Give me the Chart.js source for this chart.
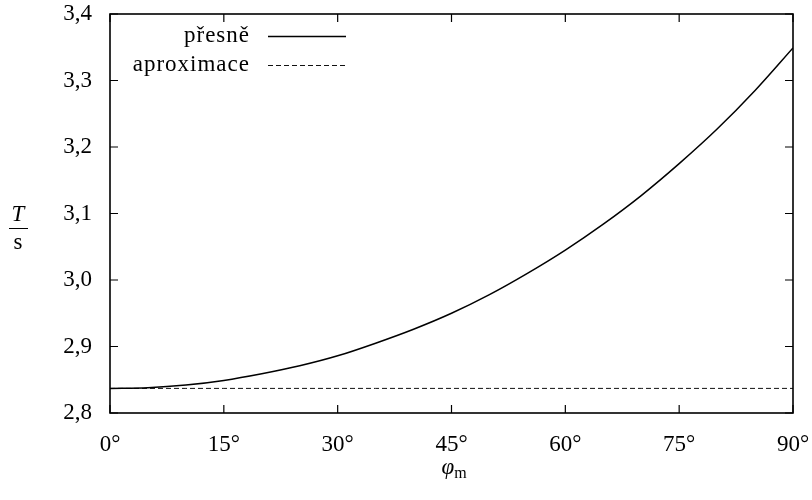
<!DOCTYPE html>
<html>
<head>
<meta charset="utf-8">
<script src="https://cdn.jsdelivr.net/npm/chart.js@4"></script>
<style>
  html, body { margin: 0; padding: 0; background: #fff; }
  #wrap { width: 812px; height: 500px; }
</style>
</head>
<body>
<div id="wrap"><canvas id="chart" width="812" height="500"></canvas></div>
<script>
// amplitude in degrees and period in seconds
const angles = [0, 5, 10, 15, 20, 25, 30, 35, 40, 45, 50, 55, 60, 65, 70, 75, 80, 85, 90];
const exactT = [2.837, 2.838, 2.842, 2.849, 2.859, 2.871, 2.886, 2.905, 2.926, 2.950,
                2.978, 3.010, 3.045, 3.084, 3.127, 3.175, 3.227, 3.285, 3.349];
const approxT = [2.837, 2.837, 2.837, 2.837, 2.837, 2.837, 2.837, 2.837, 2.837, 2.837,
                 2.837, 2.837, 2.837, 2.837, 2.837, 2.837, 2.837, 2.837, 2.837];
const seriesNames = ['přesně', 'aproximace'];
const xTicks = [0, 15, 30, 45, 60, 75, 90];
const yTicks = [2.8, 2.9, 3.0, 3.1, 3.2, 3.3, 3.4];

const FONT = 'Liberation Serif';
const FS = 23;

const frame = {
    id: 'frame',
    afterDraw(chart) {
        const ctx = chart.ctx;
        const a = chart.chartArea;
        const xs = chart.scales.x, ys = chart.scales.y;
        ctx.save();
        ctx.strokeStyle = '#000';
        ctx.lineWidth = 1.6;
        ctx.strokeRect(a.left, a.top, a.right - a.left, a.bottom - a.top);
        ctx.lineWidth = 1.2;
        ctx.beginPath();
        xTicks.forEach(v => {
            const px = xs.getPixelForValue(v);
            ctx.moveTo(px, a.bottom); ctx.lineTo(px, a.bottom - 8);
            ctx.moveTo(px, a.top); ctx.lineTo(px, a.top + 8);
        });
        yTicks.forEach(v => {
            const py = ys.getPixelForValue(v);
            ctx.moveTo(a.left, py); ctx.lineTo(a.left + 8, py);
            ctx.moveTo(a.right, py); ctx.lineTo(a.right - 8, py);
        });
        ctx.stroke();

        // legend
        ctx.fillStyle = '#000';
        ctx.font = FS + 'px "' + FONT + '"';
        ctx.letterSpacing = '1px';
        ctx.textAlign = 'right';
        ctx.textBaseline = 'middle';
        const lx = a.left + 140;
        const rows = [a.top + 22, a.top + 51];
        chart.data.datasets.forEach((ds, i) => {
            ctx.fillText(ds.label, lx, rows[i]);
            ctx.strokeStyle = ds.borderColor;
            ctx.lineWidth = ds.borderWidth;
            ctx.setLineDash(ds.borderDash || []);
            ctx.beginPath();
            ctx.moveTo(lx + 18, rows[i] + 0.5);
            ctx.lineTo(lx + 96, rows[i] + 0.5);
            ctx.stroke();
        });
        ctx.setLineDash([]);
        ctx.letterSpacing = '0px';

        // axis titles
        ctx.textAlign = 'center';
        ctx.textBaseline = 'alphabetic';
        ctx.font = 'italic ' + FS + 'px "' + FONT + '"';
        ctx.fillText('T', 18, 221);
        ctx.lineWidth = 1;
        ctx.strokeStyle = '#000';
        ctx.beginPath();
        ctx.moveTo(9, 228.5); ctx.lineTo(28, 228.5);
        ctx.stroke();
        ctx.font = FS + 'px "' + FONT + '"';
        ctx.fillText('s', 18, 249);

        ctx.textAlign = 'left';
        ctx.font = 'italic ' + FS + 'px "' + FONT + '"';
        const phiW = ctx.measureText('φ').width;
        const cx = (a.left + a.right) / 2;
        ctx.fillText('φ', cx - 10, 474);
        ctx.font = '16px "' + FONT + '"';
        ctx.fillText('m', cx - 10 + phiW, 478);
        ctx.restore();
    }
};

new Chart(document.getElementById('chart'), {
    type: 'line',
    data: {
        labels: angles,
        datasets: [{
            label: seriesNames[0],
            data: angles.map((x, i) => ({x: x, y: exactT[i]})),
            borderColor: '#000',
            borderWidth: 1.5,
            pointRadius: 0,
            cubicInterpolationMode: 'monotone',
            fill: false
        }, {
            label: seriesNames[1],
            data: angles.map((x, i) => ({x: x, y: approxT[i]})),
            borderColor: '#111',
            borderWidth: 1,
            borderDash: [5, 3],
            pointRadius: 0,
            fill: false
        }]
    },
    options: {
        responsive: false,
        animation: false,
        layout: { padding: { left: 0, right: 19, top: 14, bottom: 0 } },
        plugins: { legend: { display: false }, tooltip: { enabled: false } },
        scales: {
            x: {
                type: 'linear',
                min: 0, max: 90,
                afterFit(scale) {
                    scale.height = 87;
                    scale.paddingLeft = 0;
                    scale.paddingRight = 0;
                },
                afterBuildTicks(scale) { scale.ticks = xTicks.map(v => ({value: v})); },
                grid: { display: false },
                border: { display: false },
                ticks: {
                    padding: 10,
                    color: '#000',
                    maxRotation: 0,
                    font: { family: FONT, size: FS },
                    callback: v => v + '°'
                }
            },
            y: {
                min: 2.8, max: 3.4,
                afterFit(scale) {
                    scale.width = 110;
                    scale.paddingTop = 0;
                    scale.paddingBottom = 0;
                },
                afterBuildTicks(scale) { scale.ticks = yTicks.map(v => ({value: v})); },
                grid: { display: false },
                border: { display: false },
                ticks: {
                    padding: 10,
                    color: '#000',
                    font: { family: FONT, size: FS },
                    callback: v => v.toFixed(1).replace('.', ',')
                }
            }
        }
    },
    plugins: [frame]
});
</script>
</body>
</html>
